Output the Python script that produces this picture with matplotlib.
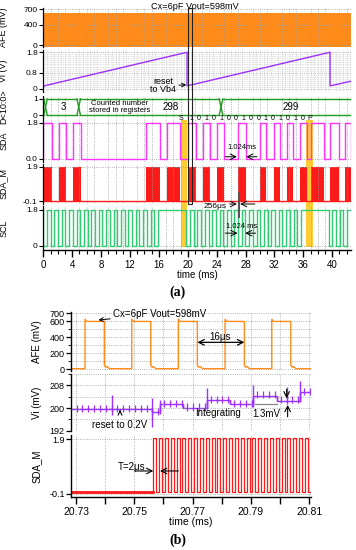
import numpy as np
import matplotlib.pyplot as plt
from matplotlib.patches import Rectangle

plt.rcParams['font.family'] = ['Liberation Sans', 'DejaVu Sans']
plt.rcParams['axes.unicode_minus'] = False

W, H = 356, 550

# ---------------- (a) full conversion cycle, time in ms ----------------
afe_a_top = 620                      # mV, envelope of the fast AFE pulses
vi_a_t = [0.0, 0.0, 0.1, 19.9, 19.9, 39.7, 39.7, 42.6]
vi_a_v = [1.8, 0.05, 0.15, 1.8, 0.15, 1.8, 0.15, 0.38]
d_change_t = [0.3, 4.9, 24.6]
d_text = ['3', 'Counted number\nstored in registers', '298', '299']
d_text_t = [2.8, 10.6, 17.7, 34.2]
sda_high = [(0.0, 1.2), (2.2, 3.2), (4.15, 5.2), (14.2, 16.1), (17.1, 18.9),
            (20.0, 21.2), (22.1, 23.1), (24.0, 25.0), (26.9, 28.0), (30.0, 30.9),
            (31.9, 32.8), (33.7, 34.6), (35.6, 36.5), (37.1, 38.8), (39.7, 40.9),
            (41.8, 42.6)]
scl_period = 1.024
scl_bursts = [(0.0, 16), (19.8, 16), (39.5, 3)]   # (start ms, clock cycles)
i2c_bits = ['1', '0', '1', '0', '1', '0', '0', '1', '0', '0', '1', '0', '1', '0', '1', '0']
start_stop = [('S', 19.1), ('P', 36.9)]
yellow_t = [(19.0, 19.9), (36.4, 37.3)]
cursor_t = (20.05, 20.6)
t256 = (26.9, 27.156)

# ---------------- (b) zoom around 20.75 ms ----------------
afe_b_rise = [20.73309, 20.74911, 20.76509, 20.78111, 20.79713]
afe_b_fall = [20.73971, 20.75563, 20.77161, 20.78774, 20.80365]
afe_b_low, afe_b_high, afe_b_peak = 8, 598, 625
afe_b_tail_dt = [0.0, 0.0005, 0.0009, 0.0018]
afe_b_tail_v = [50, 25, 35, 8]
vi_b_edges = [20.7283, 20.7559, 20.7587, 20.7668, 20.7748, 20.7828, 20.7908,
              20.7988, 20.8068, 20.8106]
vi_b_levels = [199.6, 198.5, 201.4, 200.1, 202.8, 201.3, 204.4, 202.6, 205.5]
vi_b_spikes = [(20.7424, 197.5, 204.6), (20.7559, 193.4, 203.5), (20.7587, 198.0, 203.0),
               (20.7748, 199.5, 207.0), (20.7908, 200.5, 208.1), (20.8022, 201.5, 207.4),
               (20.8068, 202.0, 209.5)]
clk_b_period = 0.002
sdam_b_start = 20.7565
sdam_b_cycles = 27

ORANGE = '#ff8c1a'
PURPLE = '#9b30ff'
MAGENTA = '#ff33ff'
RED = '#ff1a1a'
GREEN = '#2ecc71'
DGREEN = '#1f9a1f'
YELLOW = '#ffcc33'
GRID = '#9a9a9a'


def px_axes(x0, x1, y0, y1, z=1):
    ax = fig.add_axes([x0 / W, 1 - y1 / H, (x1 - x0) / W, (y1 - y0) / H], zorder=z)
    ax.patch.set_alpha(0)
    return ax


def steps(intervals, base, active, t0, t1):
    t, v = [t0], [base]
    for a, b in intervals:
        t += [a, a, b, b]
        v += [base, active, active, base]
    t.append(t1)
    v.append(base)
    return t, v


fig = plt.figure(figsize=(W / 100, H / 100), dpi=100)

# ---------------- panel (a) ----------------
AX0, AX1 = 43.3, 351
A_XLIM = (0, 42.6)
rows = {'afe': (8, 47), 'vi': (50, 92), 'd': (96, 118), 'sda': (119, 162),
        'sdam': (164, 204), 'scl': (206, 250)}

bg = px_axes(AX0, AX1, 0, 250, z=0)
bg.set_xlim(A_XLIM)
bg.set_ylim(250, 0)
bg.axis('off')
for a, b in yellow_t:
    bg.add_patch(Rectangle((a, rows['sda'][0] + 1), b - a,
                           rows['scl'][1] - rows['sda'][0] - 4, color=YELLOW, lw=0))

axa = {}
for k, (y0, y1) in rows.items():
    ax = px_axes(AX0, AX1, y0, y1)
    ax.set_xlim(A_XLIM)
    for s in ['top', 'right', 'bottom']:
        ax.spines[s].set_visible(False)
    ax.spines['left'].set_linewidth(0.9)
    ax.tick_params(axis='y', labelsize=6, length=3, width=0.8, pad=1)
    ax.tick_params(axis='x', which='both', bottom=False, labelbottom=False)
    ax.set_xticks(np.arange(0, 43, 1), minor=True)
    ax.grid(which='minor', axis='x', ls=':', color=GRID, lw=0.6)
    ax.grid(which='major', axis='y', ls=':', color=GRID, lw=0.6)
    ax.set_xticks(np.arange(0, 41, 4))
    axa[k] = ax

ax = axa['afe']
ax.set_ylim(-39, 725)
ax.fill_between(A_XLIM, -39, afe_a_top, color=ORANGE, lw=0)
ax.set_yticks([0, 400, 700])
ax.set_ylabel('AFE (mV)', fontsize=6.5)

ax = axa['vi']
ax.set_ylim(-0.15, 1.91)
ax.set_xticks(np.arange(0, 42.6, 0.5), minor=True)
ax.set_yticks(np.arange(0, 1.85, 0.1), minor=True)
ax.tick_params(axis='y', which='minor', length=0)
ax.grid(which='minor', ls=':', color='#b5b5b5', lw=0.45)
ax.plot(vi_a_t, vi_a_v, color=PURPLE, lw=1)
ax.set_yticks([0, 0.8, 1.8])
ax.set_yticklabels(['0', '0.8', '1.8'])
ax.set_ylabel('Vi (V)', fontsize=6.5)
ax.annotate('reset\nto Vb4', xy=(19.8, 0.2), xytext=(16.6, 0.15), fontsize=6.5,
            ha='center', va='center', linespacing=0.85,
            arrowprops=dict(arrowstyle='->', lw=0.7, color='k', shrinkA=9, shrinkB=0))

ax = axa['d']
ax.set_ylim(-0.17, 1.18)
ax.set_yticks([0, 1])
edges = [A_XLIM[0]] + d_change_t + [A_XLIM[1]]
w = 0.5
for i in range(len(edges) - 1):
    a = edges[i] + (w / 2 if i > 0 else 0)
    b = edges[i + 1] - (w / 2 if i + 1 < len(edges) - 1 else 0)
    ax.plot([a, b], [1, 1], color=DGREEN, lw=1)
    ax.plot([a, b], [0, 0], color=DGREEN, lw=1)
for c in d_change_t:
    ax.plot([c - w / 2, c + w / 2], [1, 0], color=DGREEN, lw=1)
    ax.plot([c - w / 2, c + w / 2], [0, 1], color=DGREEN, lw=1)
for s, t in zip(d_text, d_text_t):
    ax.text(t, 0.5, s, ha='center', va='center',
            fontsize=7 if '\n' not in s else 5.5, linespacing=0.9)
ax.set_ylabel('D<10:0>', fontsize=6.5)

ax = axa['sda']
ax.set_ylim(-0.15, 1.98)
t, v = steps(sda_high, 0, 1.8, *A_XLIM)
ax.plot(t, v, color=MAGENTA, lw=1)
ax.set_yticks([0, 1.8])
ax.set_yticklabels(['0.0', '1.8'])
ax.set_ylabel('SDA', fontsize=6.5)
burst = scl_bursts[1]
for k, b in enumerate(i2c_bits):
    ax.text(burst[0] + k * scl_period + 0.75, 1.98, b, fontsize=5, ha='center',
            va='center', clip_on=False)
for s, t0 in start_stop:
    ax.text(t0, 1.98, s, fontsize=5, ha='center', va='center', clip_on=False)
ax.text(27.5, 0.55, '1.024ms', fontsize=5.5, ha='center', va='center')
ax.annotate('', xy=(26.8, 0.11), xytext=(25.2, 0.11),
            arrowprops=dict(arrowstyle='->', lw=0.7, shrinkA=0, shrinkB=0))
ax.annotate('', xy=(28.1, 0.11), xytext=(29.6, 0.11),
            arrowprops=dict(arrowstyle='->', lw=0.7, shrinkA=0, shrinkB=0))

ax = axa['sdam']
ax.set_ylim(-0.275, 2.06)
ax.plot(A_XLIM, [-0.1, -0.1], color=RED, lw=1)
for a, b in sda_high:
    ax.fill_between([a, b], -0.1, 1.9, color=RED, lw=0)
ax.set_yticks([-0.1, 1.9])
ax.set_ylabel('SDA_M', fontsize=6.5)

ax = axa['scl']
ax.set_ylim(-0.22, 2.0)
scl_low = [(s + k * scl_period, s + k * scl_period + scl_period / 2)
           for s, n in scl_bursts for k in range(n)]
t, v = steps(scl_low, 1.8, 0, *A_XLIM)
ax.plot(t, v, color=GREEN, lw=1)
ax.set_yticks([0, 1.8])
ax.set_yticklabels(['0', '1.8'])
ax.set_ylabel('SCL', fontsize=6.5)
ax.spines['bottom'].set_visible(True)
ax.spines['bottom'].set_linewidth(1)
ax.tick_params(axis='x', which='both', bottom=True, labelbottom=True, labelsize=7,
               direction='out', pad=2)
ax.tick_params(axis='x', which='major', length=5, width=1)
ax.tick_params(axis='x', which='minor', length=3, width=0.8)
ax.set_xlabel('time (ms)', fontsize=7, labelpad=0)
ax.text(27.5, 0.99, '1.024 ms', fontsize=5.5, ha='center', va='center')
ax.annotate('', xy=(26.9, 0.63), xytext=(25.2, 0.63),
            arrowprops=dict(arrowstyle='->', lw=0.7, shrinkA=0, shrinkB=0))
ax.annotate('', xy=(27.95, 0.63), xytext=(29.4, 0.63),
            arrowprops=dict(arrowstyle='->', lw=0.7, shrinkA=0, shrinkB=0))

for ax in axa.values():
    ax.yaxis.set_label_coords(-0.114, 0.5)

ov = px_axes(AX0, AX1, 0, 250, z=5)
ov.set_xlim(A_XLIM)
ov.set_ylim(250, 0)
ov.axis('off')
ov.add_patch(Rectangle((cursor_t[0], rows['afe'][0]), cursor_t[1] - cursor_t[0],
                       rows['sdam'][1] - rows['afe'][0], fill=False, ec='#222222', lw=0.8))
for tc in t256:
    ov.plot([tc, tc], [rows['sdam'][1] - 12, rows['scl'][0] + 11], color='#555555', lw=0.8)
ov.annotate('', xy=(t256[0] - 0.1, rows['sdam'][1]), xytext=(25.8, rows['sdam'][1]),
            arrowprops=dict(arrowstyle='->', lw=0.7, shrinkA=0, shrinkB=0))
ov.annotate('', xy=(t256[1] + 0.1, rows['sdam'][1]), xytext=(29.3, rows['sdam'][1]),
            arrowprops=dict(arrowstyle='->', lw=0.7, shrinkA=0, shrinkB=0))
ov.text(23.8, rows['sdam'][1] + 2.5, '256\u03bcs', fontsize=6, ha='center', va='center')

fig.text(195 / W, 1 - 6.7 / H, 'Cx=6pF Vout=598mV', fontsize=6.6, ha='center', va='center')
fig.text(178 / W, 1 - 292 / H, '(a)', fontsize=10, fontweight='bold',
         family='Liberation Serif', ha='center', va='center')

# ---------------- panel (b) ----------------
BX0, BX1 = 71, 311
B_XLIM = (20.72829, 20.81058)
brows = {'afe': (312, 371), 'vi': (374, 431), 'sdam': (435, 497)}
axb = {}
for k, (y0, y1) in brows.items():
    ax = px_axes(BX0, BX1, y0, y1)
    ax.set_xlim(B_XLIM)
    for s in ['top', 'right', 'bottom']:
        ax.spines[s].set_visible(False)
    ax.spines['left'].set_linewidth(1)
    ax.tick_params(axis='y', labelsize=6.5, length=3.5, width=0.9, pad=1)
    ax.tick_params(axis='y', which='minor', length=2)
    ax.tick_params(axis='x', which='both', bottom=False, labelbottom=False)
    ax.set_xticks([20.73, 20.75, 20.77, 20.79, 20.81])
    ax.set_xticks([20.74, 20.76, 20.78, 20.80], minor=True)
    ax.grid(which='both', ls=':', color=GRID, lw=0.6)
    axb[k] = ax

ax = axb['afe']
ax.set_ylim(-21, 716)
afe_b_t, afe_b_v = [B_XLIM[0]], [afe_b_low]
for r, f in zip(afe_b_rise, afe_b_fall):
    afe_b_t += [r, r, r + 0.0006, f]
    afe_b_v += [afe_b_low, afe_b_peak, afe_b_high, afe_b_high]
    afe_b_t += [f + d for d in afe_b_tail_dt]
    afe_b_v += afe_b_tail_v
afe_b_t.append(B_XLIM[1])
afe_b_v.append(afe_b_low)
ax.plot(afe_b_t, afe_b_v, color=ORANGE, lw=1)
ax.set_yticks([0, 200, 400, 600, 700])
ax.set_yticks([100, 300, 500], minor=True)
ax.set_ylabel('AFE (mV)', fontsize=7)
ax.annotate('Cx=6pF Vout=598mV', xy=(20.7377, 616), xytext=(20.7427, 691),
            fontsize=7, ha='left', va='center',
            arrowprops=dict(arrowstyle='->', lw=0.7, shrinkA=0, shrinkB=0))
ax.annotate('', xy=(afe_b_fall[2], 337), xytext=(afe_b_fall[3], 337),
            arrowprops=dict(arrowstyle='<->', lw=0.9, shrinkA=0, shrinkB=0))
ax.text(20.7794, 400, '16\u03bcs', fontsize=7, ha='center', va='center')

ax = axb['vi']
ax.set_ylim(191.9, 212)
lv = vi_b_levels
ax.stairs(lv, vi_b_edges, color=PURPLE, lw=1, baseline=None)
ax.vlines(vi_b_edges[1:-1], lv[:-1], lv[1:], color=PURPLE, lw=1)
tick_t = np.arange(vi_b_edges[0] + 0.0019, B_XLIM[1], clk_b_period)
idx = np.clip(np.searchsorted(vi_b_edges, tick_t) - 1, 0, len(lv) - 1)
tick_lv = np.array(lv)[idx]
ax.vlines(tick_t, tick_lv - 1.0, tick_lv + 1.5, color=PURPLE, lw=0.9)
st, slo, shi = zip(*vi_b_spikes)
ax.vlines(st, slo, shi, color=PURPLE, lw=1)
ax.set_yticks([192, 200, 208])
ax.set_yticks([196, 204, 212], minor=True)
ax.set_ylabel('Vi (mV)', fontsize=7)
ax.annotate('reset to 0.2V', xy=(20.74509, 199.3), xytext=(20.74509, 194.0),
            fontsize=7, ha='center', va='center',
            arrowprops=dict(arrowstyle='->', lw=0.8, shrinkA=4, shrinkB=0))
ax.text(20.77882, 198.1, 'Integrating', fontsize=7, ha='center', va='center')
ax.text(20.79537, 197.9, '1.3mV', fontsize=7, ha='center', va='center')
ax.plot([20.79139, 20.79883], [201.3, 201.3], color='#888888', lw=0.9)
ax.annotate('', xy=(20.80223, 203.4), xytext=(20.80223, 206.6),
            arrowprops=dict(arrowstyle='->', lw=0.8, shrinkA=0, shrinkB=0))
ax.annotate('', xy=(20.80257, 201.1), xytext=(20.80257, 196.9),
            arrowprops=dict(arrowstyle='->', lw=0.8, shrinkA=0, shrinkB=0))

ax = axb['sdam']
ax.set_ylim(-0.225, 2.05)
sdam_b_high = [(sdam_b_start + k * clk_b_period, sdam_b_start + (k + 0.5) * clk_b_period)
               for k in range(sdam_b_cycles)]
t, v = steps(sdam_b_high, -0.03, 1.93, *B_XLIM)
ax.plot(t, v, color=RED, lw=0.9)
ax.plot([B_XLIM[0], sdam_b_start], [-0.03, -0.03], color=RED, lw=2)
ax.set_yticks([-0.1, 1.9])
ax.set_ylabel('SDA_M', fontsize=7)
ax.spines['bottom'].set_visible(True)
ax.spines['bottom'].set_linewidth(1)
ax.tick_params(axis='x', which='both', bottom=True, labelbottom=True, labelsize=7.5,
               direction='out', pad=2)
ax.tick_params(axis='x', which='major', length=5, width=1)
ax.tick_params(axis='x', which='minor', length=5, width=1)
ax.set_xlabel('time (ms)', fontsize=7.5, labelpad=0)
ax.text(20.74911, 0.86, 'T=2\u03bcs', fontsize=7, ha='center', va='center')
ax.annotate('', xy=(20.75652, 0.73), xytext=(20.75024, 0.73),
            arrowprops=dict(arrowstyle='->', lw=0.8, shrinkA=0, shrinkB=0))
ax.annotate('', xy=(20.75882, 0.73), xytext=(20.76509, 0.73),
            arrowprops=dict(arrowstyle='->', lw=0.8, shrinkA=0, shrinkB=0))

for ax in axb.values():
    ax.yaxis.set_label_coords(-0.122, 0.5)

fig.text(178 / W, 1 - 540 / H, '(b)', fontsize=10, fontweight='bold',
         family='Liberation Serif', ha='center', va='center')

fig.savefig('out.png', dpi=100)
